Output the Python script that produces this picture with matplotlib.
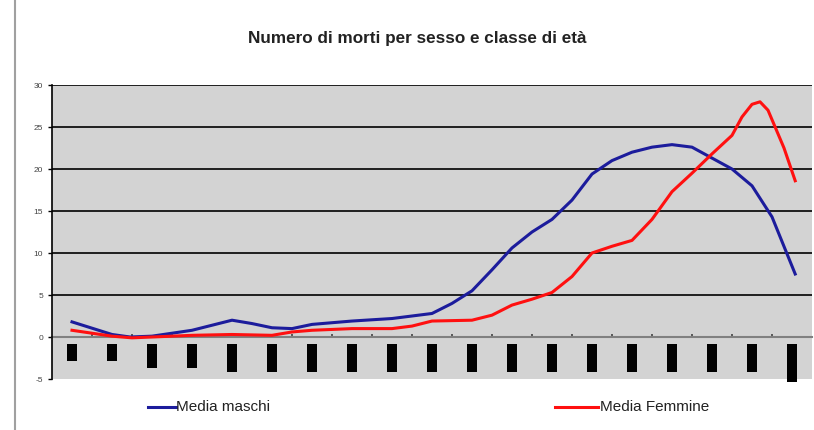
import numpy as np
import matplotlib.pyplot as plt
from matplotlib.lines import Line2D

plt.rcParams['font.family'] = ['Liberation Sans', 'DejaVu Sans']
plt.rcParams['axes.unicode_minus'] = False

# category slots (19 age classes)
n_classes = 19
bar_top = -0.8
bar_bottom = [-2.9, -2.9, -3.7, -3.7, -4.2, -4.2, -4.2, -4.2, -4.2, -4.2,
              -4.2, -4.2, -4.2, -4.2, -4.2, -4.2, -4.2, -4.2, -5.3]

# smoothed curves, x in class units
x_m = [0, 1.0, 1.45, 2.0, 3.0, 4.0, 4.5, 5.0, 5.5, 6.0, 7.0, 8.0, 9.0, 9.5, 10.0,
       10.5, 11.0, 11.5, 12.0, 12.5, 13.0, 13.5, 14.0, 14.5, 15.0, 15.5, 16.0,
       16.5, 17.0, 17.5, 18.08]
y_m = [1.8, 0.3, 0.0, 0.1, 0.8, 2.0, 1.6, 1.1, 1.0, 1.5, 1.9, 2.2, 2.8, 4.0, 5.5,
       8.0, 10.6, 12.5, 14.0, 16.3, 19.4, 21.0, 22.0, 22.6, 22.9, 22.6, 21.3,
       20.0, 18.0, 14.3, 7.5]

x_f = [0, 1.0, 1.5, 2.0, 3.0, 4.0, 5.0, 5.5, 6.0, 7.0, 8.0, 8.5, 9.0, 10.0, 10.5,
       11.0, 11.5, 12.0, 12.5, 13.0, 13.5, 14.0, 14.5, 15.0, 15.5, 16.0, 16.5,
       16.75, 17.0, 17.2, 17.4, 17.8, 18.08]
y_f = [0.8, 0.1, -0.1, 0.0, 0.2, 0.3, 0.2, 0.6, 0.8, 1.0, 1.0, 1.3, 1.9, 2.0, 2.6,
       3.8, 4.5, 5.3, 7.2, 10.0, 10.8, 11.5, 14.0, 17.3, 19.5, 21.8, 24.0,
       26.2, 27.7, 28.0, 27.0, 22.5, 18.6]

fig = plt.figure(figsize=(8.14, 4.30), dpi=100)
ax = fig.add_axes([52/814, 51/430, 760/814, 294/430])
ax.set_facecolor('#d3d3d3')

idx = np.arange(n_classes)
heights = [b - bar_top for b in bar_bottom]
bars = ax.bar(idx, heights, bottom=bar_top, width=0.26, color='black', zorder=3)
for b in bars:
    b.set_clip_on(False)

for yv in range(5, 31, 5):
    ax.axhline(yv, color='#111111', lw=1.3, zorder=1)

ax.plot(x_m, y_m, color='#1c1c9c', lw=2.2, zorder=4, solid_joinstyle='round')
ax.plot(x_f, y_f, color='#ff1010', lw=2.2, zorder=4, solid_joinstyle='round')

ax.set_xlim(-0.5, n_classes - 0.5)
ax.set_ylim(-5, 30)
ax.set_yticks(range(-5, 31, 5))
ax.tick_params(axis='y', labelsize=6, labelcolor='#444444', length=3, width=1, color='black')
ax.set_xticks(np.arange(0.5, n_classes - 0.5, 1))
ax.set_xticklabels([])
ax.tick_params(axis='x', direction='in', length=2, width=1.2, color='#444444')
ax.spines['bottom'].set_position(('data', 0))
ax.spines['bottom'].set_color('#808080')
ax.spines['bottom'].set_linewidth(1.5)
ax.spines['bottom'].set_zorder(2)
ax.spines['top'].set_visible(False)
ax.spines['right'].set_visible(False)
ax.spines['left'].set_linewidth(1.2)

fig.text(417/814, 1 - 38/430, 'Numero di morti per sesso e classe di età',
         ha='center', va='center', fontsize=12.3, fontweight='bold', color='#222222')

# outer chart border
fig.add_artist(Line2D([15/814, 15/814], [0, 1], color='#a0a0a0', lw=1.5))

# legend
ly = 1 - 407/430
fig.add_artist(Line2D([148/814, 176/814], [ly, ly], color='#1c1c9c', lw=2.2))
fig.text(176/814, ly, 'Media maschi', va='center', fontsize=11, color='#222222')
fig.add_artist(Line2D([555/814, 598/814], [ly, ly], color='#ff1010', lw=2.2))
fig.text(600/814, ly, 'Media Femmine', va='center', fontsize=11, color='#222222')

fig.savefig('out.png', dpi=100)
